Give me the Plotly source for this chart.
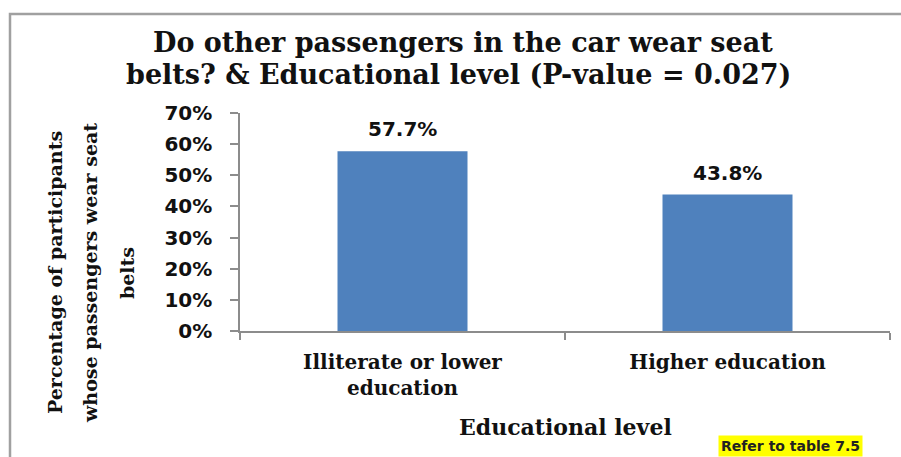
import plotly.graph_objects as go

categories = ["Illiterate or lower<br>education", "Higher education"]
values = [0.577, 0.438]
y_ticks = [0, 0.1, 0.2, 0.3, 0.4, 0.5, 0.6, 0.7]
title_lines = ["Do other passengers in the car wear seat", "belts? & Educational level (P-value = 0.027)"]
y_title_lines = ["Percentage of participants", "whose passengers wear seat", "belts"]

W, H = 901, 457
L, R, T, B = 240, 11, 113, 126
pw, ph = W - L - R, H - T - B


def px_x(x):
    return (x - L) / pw


def px_y(y):
    return (H - B - y) / ph


serif = "DejaVu Serif"
sans = "DejaVu Sans"
grey = "#8c8c8c"
ink = "#111"

fig = go.Figure(
    go.Bar(x=categories, y=values, width=0.4, marker=dict(color="#4F81BD", line=dict(width=0)))
)

# data labels above bars
for c, v in zip(categories, values):
    fig.add_annotation(
        x=c, y=v, text=f"<b>{v * 100:.1f}%</b>", showarrow=False,
        xanchor="center", yanchor="bottom", yshift=8, font=dict(family=sans, size=20, color=ink),
    )

# title, two lines
for (xp, yp), line in zip([(463, 43), (458, 74)], title_lines):
    fig.add_annotation(
        xref="paper", yref="paper", x=px_x(xp), y=px_y(yp), text=f"<b>{line}</b>",
        showarrow=False, xanchor="center", yanchor="middle",
        font=dict(family=serif, size=27, color=ink),
    )

# y axis title, three lines
for xp, line in zip([55, 90, 127], y_title_lines):
    fig.add_annotation(
        xref="paper", yref="paper", x=px_x(xp), y=px_y(273), text=f"<b>{line}</b>",
        textangle=-90, showarrow=False, xanchor="center", yanchor="middle",
        font=dict(family=serif, size=19, color=ink),
    )

fig.add_annotation(
    xref="paper", yref="paper", x=px_x(565), y=px_y(427), text="<b>Educational level</b>",
    showarrow=False, xanchor="center", yanchor="middle",
    font=dict(family=serif, size=22, color=ink),
)

fig.add_annotation(
    xref="paper", yref="paper", x=px_x(790), y=px_y(446), text="<b>Refer to table 7.5</b>",
    showarrow=False, xanchor="center", yanchor="middle", bgcolor="#FFFF00", borderpad=2,
    font=dict(family=sans, size=14, color="#222"),
)

# chart border
fig.add_shape(
    type="rect", xref="paper", yref="paper",
    x0=px_x(10), x1=px_x(910), y0=px_y(470), y1=px_y(14),
    line=dict(color="#a0a0a0", width=2.5),
)

fig.update_layout(
    width=W, height=H,
    margin=dict(l=L, r=R, t=T, b=B),
    paper_bgcolor="white", plot_bgcolor="white",
    showlegend=False,
)

fig.update_xaxes(
    tickvals=categories, ticktext=[f"<b>{c}</b>" for c in categories],
    showline=True, linecolor=grey, linewidth=1.5,
    ticks="outside", ticklen=7, tickcolor=grey, tickwidth=1.5, tickson="boundaries",
    tickfont=dict(family=serif, size=20, color=ink), ticklabelstandoff=12,
    showgrid=False,
)
fig.update_yaxes(
    range=[0, 0.7], tickvals=y_ticks, ticktext=[f"<b>{t * 100:.0f}%</b>" for t in y_ticks],
    showline=True, linecolor=grey, linewidth=1.5,
    ticks="outside", ticklen=8, tickcolor=grey, tickwidth=1.5,
    tickfont=dict(family=sans, size=20, color=ink), ticklabelstandoff=14,
    showgrid=False, zeroline=False,
)

fig.write_html(
    "out.html",
    config={"displayModeBar": False},
    post_script="document.body.style.margin='0';document.body.style.overflow='hidden';",
)
